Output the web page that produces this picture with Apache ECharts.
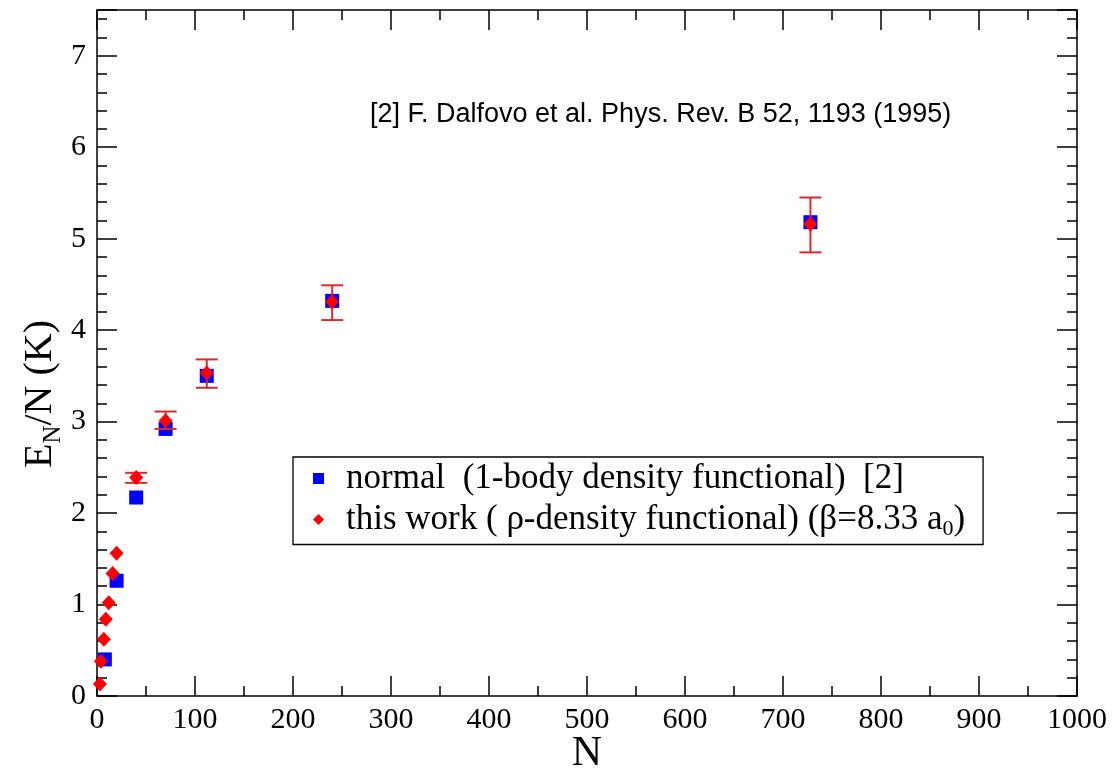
<!DOCTYPE html>
<html>
<head>
<meta charset="utf-8">
<script src="https://cdn.jsdelivr.net/npm/echarts@6/dist/echarts.min.js"></script>
<style>
  html, body { margin: 0; padding: 0; background: #fff; }
  #chart { width: 1117px; height: 773px; }
</style>
</head>
<body>
<div id="chart"></div>
<script>
// normal (1-body density functional) [2]
const normalN = [8, 20, 40, 70, 112, 240, 728]
const normalE = [0.40, 1.26, 2.17, 2.92, 3.50, 4.32, 5.18]

// this work (rho-density functional)
const workN = [3, 4, 7, 9, 12, 16, 20, 40, 70, 112, 240, 728]
const workE = [0.13, 0.38, 0.62, 0.84, 1.02, 1.34, 1.56, 2.39, 3.01, 3.53, 4.31, 5.16]

// error bars on this work
const errN = [40, 70, 112, 240, 728]
const errY = [2.385, 3.015, 3.525, 4.30, 5.15]
const errHalf = [0.055, 0.095, 0.155, 0.19, 0.30]

const xTicks = [0, 100, 200, 300, 400, 500, 600, 700, 800, 900, 1000]

const serif = '"Liberation Serif", "DejaVu Serif", serif'
const sans = '"Liberation Sans", Arial, sans-serif'
const errColor = '#d42c2c'

const chart = echarts.init(document.getElementById('chart'), null, { renderer: 'canvas' })

const tickStyle = { color: '#000', width: 1.5 }

function frameAxis(extra) {
    return Object.assign({
        axisLine: { show: true, onZero: false, lineStyle: { color: '#000', width: 1.5 } },
        axisTick: { show: true, inside: true, length: 20, lineStyle: tickStyle },
        minorTick: { show: true, length: 10, lineStyle: tickStyle },
        splitLine: { show: false },
    }, extra)
}

const options = {
    animation: false,
    backgroundColor: '#fff',
    grid: { left: 97, right: 40, top: 10, bottom: 77, containLabel: false, outerBoundsMode: 'none' },
    xAxis: [
        frameAxis({
            type: 'value', min: 0, max: 1000, interval: 100,
            minorTick: { show: true, splitNumber: 2, length: 10, lineStyle: tickStyle },
            axisLabel: {
                margin: 9, color: '#000', fontFamily: serif, fontSize: 30,
                formatter: v => xTicks.indexOf(v) >= 0 ? String(v) : ''
            },
            name: 'N', nameLocation: 'middle', nameGap: 37, nameMoveOverlap: false,
            nameTextStyle: { color: '#000', fontFamily: serif, fontSize: 42, verticalAlign: 'top' },
        }),
        frameAxis({
            type: 'value', min: 0, max: 1000, interval: 100, position: 'top',
            minorTick: { show: true, splitNumber: 2, length: 10, lineStyle: tickStyle },
            axisLabel: { show: false },
        }),
    ],
    yAxis: [
        frameAxis({
            type: 'value', min: 0, max: 7.5, interval: 1,
            minorTick: { show: true, splitNumber: 5, length: 10, lineStyle: tickStyle },
            axisLabel: {
                margin: 11, color: '#000', fontFamily: serif, fontSize: 30,
                formatter: v => Number.isInteger(v) ? String(v) : ''
            },
        }),
        frameAxis({
            type: 'value', min: 0, max: 7.5, interval: 1, position: 'right',
            minorTick: { show: true, splitNumber: 5, length: 10, lineStyle: tickStyle },
            axisLabel: { show: false },
        }),
    ],
    legend: {
        orient: 'vertical',
        left: 293, top: 457,
        borderColor: '#000', borderWidth: 1.3, borderRadius: 0,
        padding: [4, 18, 4, 20],
        itemGap: 6,
        itemWidth: 11, itemHeight: 11,
        data: [
            { name: 'normal', icon: 'rect' },
            { name: 'work', icon: 'diamond' },
        ],
        formatter: name => name === 'normal'
            ? '{m|normal  (1-body density functional)  [2]}'
            : '{m|this work ( ρ-density functional) (β=8.33 a}{sub|0}{m|)}',
        textStyle: {
            color: '#000', fontFamily: serif, fontSize: 35, padding: [0, 0, 0, 17],
            rich: {
                m: { fontFamily: serif, fontSize: 35, lineHeight: 42, color: '#000' },
                sub: { fontFamily: serif, fontSize: 22, lineHeight: 24, verticalAlign: 'bottom', color: '#000' },
            }
        },
    },
    graphic: [
        {
            type: 'text', left: 370, top: 101,
            style: { text: '[2] F. Dalfovo et al. Phys. Rev. B 52, 1193 (1995)', fontFamily: sans, fontSize: 27, fill: '#000' }
        },
        {
            type: 'text', x: 40, y: 394, rotation: Math.PI / 2,
            style: {
                text: '{m|E}{sub|N}{m|/N (K)}', align: 'center', verticalAlign: 'middle',
                rich: {
                    m: { fontFamily: serif, fontSize: 40, lineHeight: 52, fill: '#000' },
                    sub: { fontFamily: serif, fontSize: 25, lineHeight: 26, verticalAlign: 'bottom', fill: '#000' },
                }
            }
        },
    ],
    series: [
        {
            name: 'normal', type: 'scatter', symbol: 'rect', symbolSize: 14,
            itemStyle: { color: '#0000ff', opacity: 1 },
            data: normalN.map((n, i) => [n, normalE[i]]),
            z: 2,
        },
        {
            name: 'errors', type: 'custom',
            data: errN.map((n, i) => [n, errY[i] - errHalf[i], errY[i] + errHalf[i]]),
            renderItem: (params, api) => {
                const top = api.coord([api.value(0), api.value(2)])
                const bot = api.coord([api.value(0), api.value(1)])
                const w = 11
                const st = { stroke: errColor, lineWidth: 2 }
                return {
                    type: 'group',
                    children: [
                        { type: 'line', shape: { x1: top[0], y1: top[1], x2: bot[0], y2: bot[1] }, style: st },
                        { type: 'line', shape: { x1: top[0] - w, y1: top[1], x2: top[0] + w, y2: top[1] }, style: st },
                        { type: 'line', shape: { x1: bot[0] - w, y1: bot[1], x2: bot[0] + w, y2: bot[1] }, style: st },
                    ]
                }
            },
            z: 3,
        },
        {
            name: 'work', type: 'scatter', symbol: 'diamond', symbolSize: [14, 15],
            itemStyle: { color: '#ff0000', opacity: 1 },
            data: workN.map((n, i) => [n, workE[i]]),
            z: 4,
        },
    ],
}

chart.setOption(options)
</script>
</body>
</html>
